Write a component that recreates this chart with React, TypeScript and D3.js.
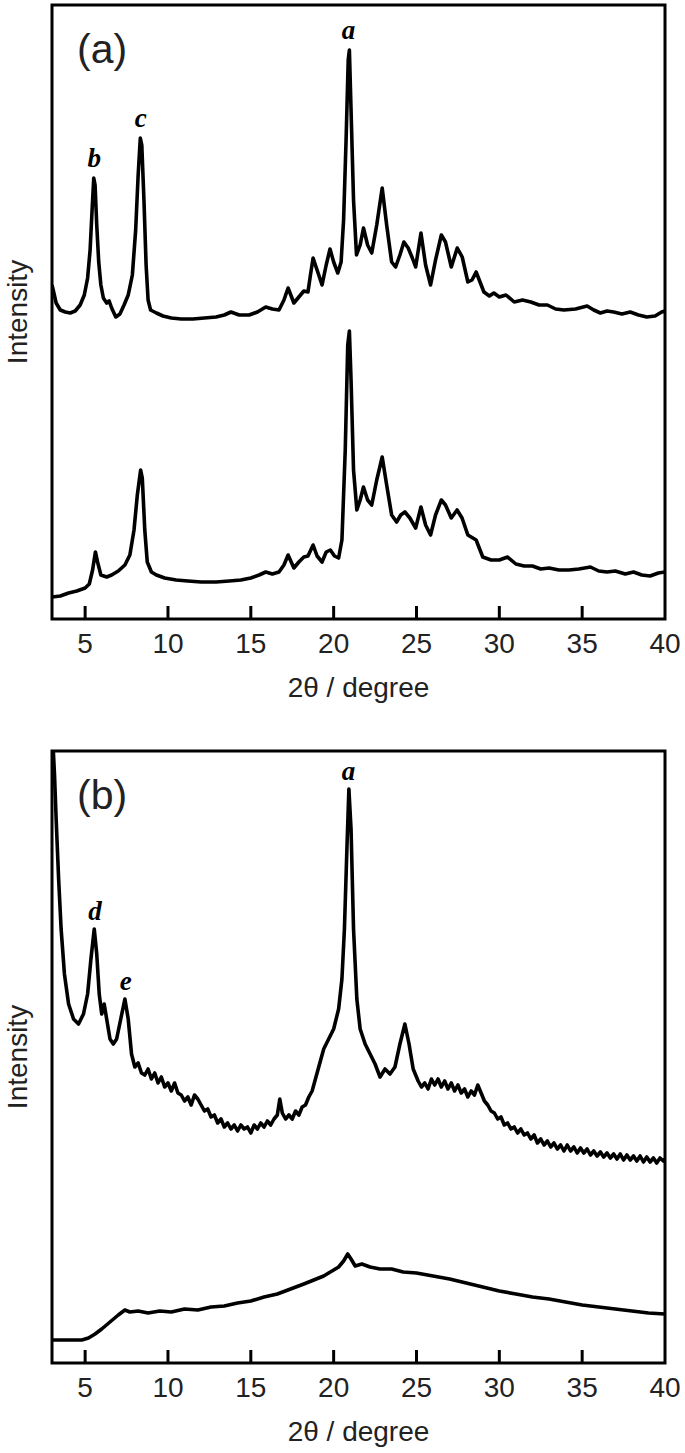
import { useEffect, useRef } from "react";
import * as d3 from "d3";

// 2theta (degree) and intensity (arb. units)
const xTicks = [5, 10, 15, 20, 25, 30, 35, 40];

const aTopX = [3.0, 3.1, 3.25, 3.5, 3.8, 4.1, 4.4, 4.7, 4.95, 5.15, 5.3, 5.42, 5.52, 5.6, 5.7, 5.82, 5.95, 6.1, 6.3, 6.45, 6.6, 6.85, 7.1, 7.35, 7.6, 7.85, 8.05, 8.2, 8.33, 8.42, 8.55, 8.68, 8.8, 8.95, 9.3, 9.7, 10.2, 10.8, 11.5, 12.2, 12.9, 13.4, 13.8, 14.3, 14.9, 15.4, 15.9, 16.3, 16.7, 17.0, 17.25, 17.6, 17.9, 18.2, 18.45, 18.6, 18.76, 19.0, 19.3, 19.55, 19.78, 20.0, 20.25, 20.45, 20.6, 20.75, 20.88, 20.95, 21.05, 21.2, 21.38, 21.6, 21.8, 22.05, 22.3, 22.6, 22.93, 23.2, 23.5, 23.74, 24.0, 24.24, 24.5, 24.75, 24.95, 25.27, 25.55, 25.85, 26.15, 26.5, 26.75, 27.1, 27.46, 27.76, 28.1, 28.35, 28.6, 29.07, 29.4, 29.67, 30.0, 30.4, 30.9, 31.4, 31.9, 32.4, 32.9, 33.4, 33.9, 34.6, 35.3, 35.7, 36.1, 36.5, 36.9, 37.4, 37.9, 38.4, 38.9, 39.4, 39.8, 40.0];
const aTopY = [334, 327, 316, 309, 307, 306, 308, 314, 324, 341, 369, 409, 441, 434, 394, 357, 334, 321, 316, 318, 311, 302, 305, 314, 324, 344, 389, 444, 481, 474, 419, 354, 319, 309, 306, 303, 301, 300, 300, 301, 302, 304, 307, 304, 304, 307, 312, 310, 309, 319, 331, 316, 322, 328, 327, 344, 361, 349, 334, 354, 370, 357, 346, 357, 399, 479, 559, 569, 509, 419, 364, 374, 391, 374, 366, 394, 431, 394, 357, 352, 364, 377, 371, 361, 352, 386, 354, 334, 359, 384, 377, 352, 371, 362, 337, 339, 347, 327, 323, 326, 322, 324, 317, 319, 317, 314, 314, 310, 309, 310, 313, 309, 306, 308, 307, 305, 307, 304, 302, 303, 307, 308];

const aBotX = [3.0, 3.5, 4.0, 4.5, 5.0, 5.25, 5.45, 5.62, 5.75, 5.95, 6.3, 6.6, 7.0, 7.4, 7.7, 7.95, 8.15, 8.35, 8.45, 8.6, 8.75, 9.0, 9.3, 9.8, 10.5, 11.2, 12.0, 12.9, 13.7, 14.4, 15.0, 15.5, 15.9, 16.3, 16.7, 17.0, 17.25, 17.6, 17.9, 18.2, 18.45, 18.76, 19.0, 19.3, 19.55, 19.8, 20.05, 20.3, 20.5, 20.7, 20.85, 20.95, 21.05, 21.2, 21.4, 21.6, 21.8, 22.05, 22.3, 22.6, 22.93, 23.2, 23.5, 23.8, 24.05, 24.3, 24.6, 24.95, 25.27, 25.55, 25.85, 26.15, 26.5, 26.75, 27.1, 27.45, 27.75, 28.1, 28.6, 29.0, 29.5, 30.0, 30.5, 31.0, 31.5, 32.0, 32.5, 33.0, 33.6, 34.2, 34.8, 35.5, 36.0, 36.5, 37.0, 37.6, 38.1, 38.6, 39.1, 39.6, 40.0];
const aBotY = [22, 23, 26, 28, 31, 35, 49, 67, 57, 44, 42, 44, 48, 54, 64, 89, 124, 149, 141, 89, 57, 47, 44, 41, 39, 38, 37, 37, 38, 39, 41, 44, 47, 45, 47, 54, 64, 51, 57, 62, 63, 74, 63, 57, 67, 69, 63, 61, 79, 169, 274, 288, 239, 149, 109, 119, 132, 119, 114, 139, 162, 134, 104, 97, 104, 107, 101, 91, 112, 94, 84, 104, 119, 114, 101, 109, 101, 84, 79, 62, 59, 59, 62, 55, 53, 53, 50, 51, 49, 49, 50, 52, 48, 47, 48, 45, 47, 44, 43, 46, 47];

const bTopX = [3.08, 3.15, 3.25, 3.4, 3.55, 3.75, 4.0, 4.3, 4.6, 4.9, 5.15, 5.35, 5.55, 5.7, 5.85, 6.0, 6.15, 6.3, 6.5, 6.7, 6.9, 7.15, 7.4, 7.6, 7.8,
  8.0, 8.2, 8.4, 8.6, 8.8, 9.0, 9.2, 9.4, 9.6, 9.8, 10.0, 10.2, 10.4, 10.6, 10.8, 11.0, 11.2, 11.4, 11.6, 11.8, 12.0, 12.2, 12.4, 12.6, 12.8, 13.0, 13.2, 13.4, 13.6, 13.8, 14.0, 14.2, 14.4, 14.6, 14.8, 15.0, 15.2, 15.4, 15.6, 15.8, 16.0, 16.2, 16.4, 16.6, 16.75, 16.9, 17.1, 17.3, 17.5, 17.7, 17.9, 18.1, 18.3, 18.5, 18.7, 18.9, 19.1,
  19.4, 19.7, 20.0, 20.3, 20.5, 20.65, 20.8, 20.92, 21.05, 21.2, 21.4, 21.6, 21.9, 22.2, 22.5, 22.8, 23.1, 23.4, 23.7, 24.0, 24.3, 24.55, 24.8,
  25.1, 25.3, 25.5, 25.7, 25.9, 26.1, 26.3, 26.5, 26.7, 26.9, 27.1, 27.3, 27.5, 27.7, 27.9, 28.1, 28.3, 28.5, 28.7, 28.9, 29.1, 29.3, 29.5, 29.7, 29.9, 30.1, 30.3, 30.5, 30.7, 30.9, 31.1, 31.3, 31.5, 31.7, 31.9, 32.1, 32.3, 32.5, 32.7, 32.9, 33.1, 33.3, 33.5, 33.7, 33.9, 34.1, 34.3, 34.5, 34.7, 34.9, 35.1, 35.3, 35.5, 35.7, 35.9, 36.1, 36.3, 36.5, 36.7, 36.9, 37.1, 37.3, 37.5, 37.7, 37.9, 38.1, 38.3, 38.5, 38.7, 38.9, 39.1, 39.3, 39.5, 39.7, 39.9, 40.0];
const bTopY = [612, 589, 544, 484, 434, 389, 359, 344, 339, 349, 369, 404, 434, 409, 369, 349, 359, 344, 324, 319, 324, 344, 364, 344, 309,
  296, 300, 290, 288, 294, 284, 290, 280, 286, 276, 280, 272, 280, 270, 268, 262, 266, 258, 268, 264, 258, 252, 254, 246, 248, 240, 244, 236, 240, 234, 238, 232, 238, 234, 236, 230, 238, 234, 240, 236, 242, 238, 244, 248, 264, 250, 244, 248, 244, 252, 248, 256, 258, 266, 272, 284, 296,
  314, 324, 334, 354, 384, 434, 514, 574, 534, 434, 364, 334, 319, 309, 299, 286, 294, 289, 296, 319, 339, 319, 294,
  282, 276, 280, 274, 284, 278, 284, 276, 282, 274, 280, 272, 278, 270, 274, 266, 272, 268, 278, 270, 262, 258, 252, 250, 244, 246, 238, 240, 234, 236, 230, 234, 228, 230, 224, 228, 220, 224, 218, 222, 216, 220, 214, 218, 212, 218, 212, 216, 210, 215, 210, 214, 208, 212, 207, 211, 206, 210, 205, 209, 204, 209, 203, 208, 203, 207, 202, 207, 201, 206, 201, 205, 200, 205, 202, 204];

const bBotX = [3.0, 4.0, 4.8, 5.2, 5.6, 6.0, 6.5, 7.0, 7.4, 7.7, 8.2, 8.8, 9.5, 10.2, 11.0, 11.8, 12.6, 13.4, 14.2, 15.0, 15.8, 16.6, 17.4, 18.2, 18.8, 19.4, 19.9, 20.3, 20.6, 20.85, 21.05, 21.3, 21.7, 22.2, 22.8, 23.5, 24.2, 25.0, 26.0, 27.0, 28.0, 29.0, 30.0, 31.0, 32.0, 33.0, 34.0, 35.0, 36.0, 37.0, 38.0, 39.0, 40.0];
const bBotY = [23, 23, 23, 25, 29, 34, 41, 48, 53, 51, 52, 50, 52, 51, 54, 53, 56, 57, 60, 62, 66, 69, 74, 79, 83, 87, 92, 96, 102, 109, 104, 97, 99, 96, 94, 94, 91, 90, 87, 84, 80, 76, 72, 69, 66, 64, 61, 58, 56, 54, 52, 50, 49];

const panels = [
  {
    id: "a", tag: "(a)", top: 5, bottom: 619,
    series: [[aTopX, aTopY], [aBotX, aBotY]],
    peaks: [{ t: "b", x: 5.55, dy: 167 }, { t: "c", x: 8.36, dy: 127 }, { t: "a", x: 20.9, dy: 39 }],
  },
  {
    id: "b", tag: "(b)", top: 751, bottom: 1363,
    series: [[bTopX, bTopY], [bBotX, bBotY]],
    peaks: [{ t: "d", x: 5.6, dy: 920 }, { t: "e", x: 7.45, dy: 990 }, { t: "a", x: 20.9, dy: 780 }],
  },
];

export default function App() {
  const ref = useRef<SVGSVGElement>(null);

  useEffect(() => {
    const svg = d3.select(ref.current);
    svg.selectAll("*").remove();
    const left = 52, right = 665;
    const sans = "'Liberation Sans', Arial, sans-serif";

    const x = d3.scaleLinear().domain([3, 40]).range([left, right]);

    panels.forEach(p => {
      const y = d3.scaleLinear().domain([0, p.bottom - p.top]).range([p.bottom, p.top]);
      const g = svg.append("g");

      const clipId = "clip-" + p.id;
      svg.append("clipPath").attr("id", clipId)
        .append("rect").attr("x", left).attr("y", p.top).attr("width", right - left).attr("height", p.bottom - p.top);

      const line = d3.line<[number, number]>()
        .x(d => x(d[0]))
        .y(d => y(d[1]));

      p.series.forEach(([xs, ys]) => {
        const pts = xs.map((v, i) => [v, ys[i]] as [number, number]);
        g.append("path")
          .attr("d", line(pts))
          .attr("clip-path", `url(#${clipId})`)
          .attr("fill", "none")
          .attr("stroke", "#000")
          .attr("stroke-width", 3.6)
          .attr("stroke-linejoin", "round");
      });

      // frame
      g.append("rect")
        .attr("x", left).attr("y", p.top)
        .attr("width", right - left).attr("height", p.bottom - p.top)
        .attr("fill", "none").attr("stroke", "#000").attr("stroke-width", 3);

      // inward ticks + labels
      g.selectAll(".tick").data(xTicks.filter(t => t < 40)).enter()
        .append("line")
        .attr("x1", d => x(d)).attr("x2", d => x(d))
        .attr("y1", p.bottom).attr("y2", p.bottom - 13)
        .attr("stroke", "#000").attr("stroke-width", 3);

      g.selectAll(".tl").data(xTicks).enter()
        .append("text")
        .attr("x", d => x(d)).attr("y", p.bottom + 34)
        .attr("text-anchor", "middle")
        .attr("font-family", sans).attr("font-size", 28).attr("fill", "#222")
        .text(d => d);

      g.append("text")
        .attr("x", (left + right) / 2).attr("y", p.bottom + 78)
        .attr("text-anchor", "middle")
        .attr("font-family", sans).attr("font-size", 28).attr("fill", "#222")
        .text("2θ / degree");

      g.append("text")
        .attr("transform", `translate(27,${(p.top + p.bottom) / 2}) rotate(-90)`)
        .attr("text-anchor", "middle")
        .attr("font-family", sans).attr("font-size", 28).attr("fill", "#222")
        .text("Intensity");

      g.append("text")
        .attr("x", 77).attr("y", p.top + 58)
        .attr("font-family", sans).attr("font-size", 41).attr("fill", "#222")
        .text(p.tag);

      g.selectAll(".pk").data(p.peaks).enter()
        .append("text")
        .attr("x", d => x(d.x)).attr("y", d => d.dy)
        .attr("text-anchor", "middle")
        .attr("font-family", "'Liberation Serif', 'Times New Roman', serif")
        .attr("font-style", "italic").attr("font-weight", "bold")
        .attr("font-size", 27)
        .text(d => d.t);
    });
  }, []);

  return (
    <svg ref={ref} width={685} height={1453}
      style={{ position: "absolute", left: 0, top: 0, background: "#fff" }} />
  );
}
